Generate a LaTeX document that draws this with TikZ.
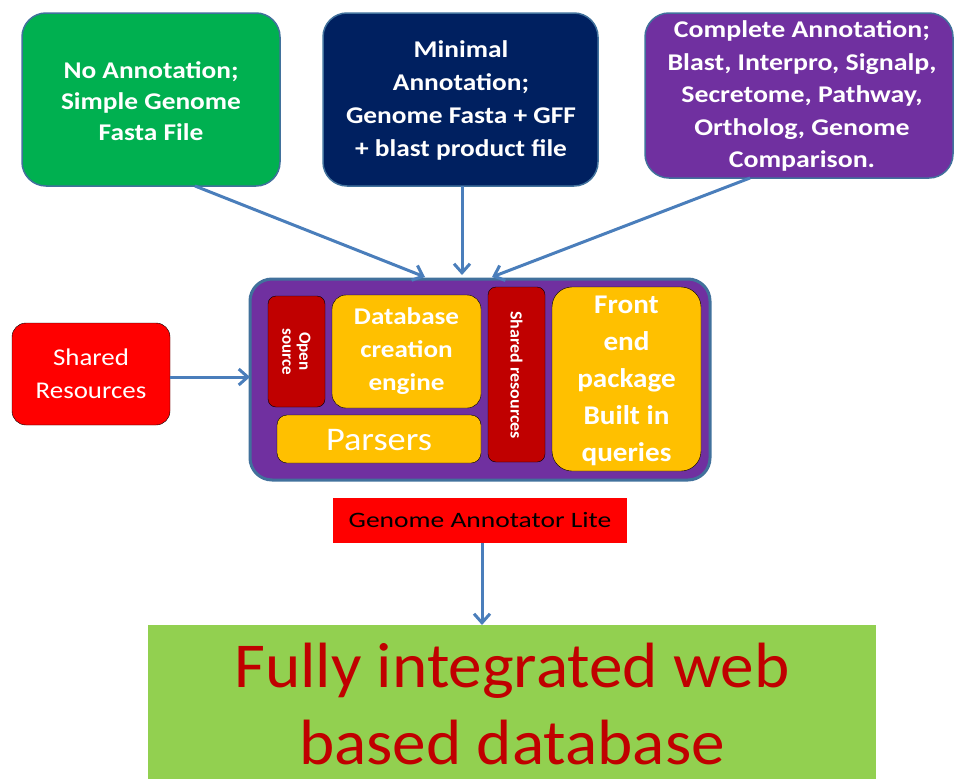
\documentclass[tikz,border=0pt]{standalone}
\usepackage{fontspec}
\setmainfont{Carlito}
\usetikzlibrary{arrows.meta}
\newcommand\widenby[1]{\addfontfeature{FakeStretch=#1}}
\definecolor{bgreen}{HTML}{00B050}
\definecolor{navy}{HTML}{002060}
\definecolor{purp}{HTML}{7030A0}
\definecolor{edgeblue}{HTML}{41719C}
\definecolor{arrblue}{HTML}{4A7EBB}
\definecolor{dred}{HTML}{C00000}
\definecolor{gold}{HTML}{FFC000}
\definecolor{lgreen}{HTML}{92D050}
\tikzset{
  topbox/.style={draw=edgeblue, line width=1.5pt, rounded corners=24pt},
  toptext/.style={text=white, align=center},
  inner/.style={rounded corners=14pt, fill=gold},
  redbar/.style={rounded corners=8pt, fill=dred},
  conn/.style={draw=arrblue, line width=3pt, -{Straight Barb[length=9pt,width=16pt,line width=3pt]}},
}
\begin{document}
\begin{tikzpicture}[x=1pt,y=-1pt]
\useasboundingbox (0,0) rectangle (955,779);
% top boxes
\draw[topbox, fill=bgreen] (22,13) rectangle (280,186);
\node[toptext, font=\bfseries\fontsize{24}{31}\selectfont\widenby{1.14}] (green) at (151,101) {No Annotation;\\Simple Genome\\Fasta File};
\draw[topbox, fill=navy] (323,13) rectangle (598,186);
\node[toptext, font=\bfseries\fontsize{24}{33}\selectfont\widenby{1.14}] (navy) at (461,100) {Minimal\\Annotation;\\Genome Fasta + GFF\\+ blast product file};
\draw[topbox, fill=purp] (645,13) rectangle (953,178);
\node[toptext, font=\bfseries\fontsize{24}{32.5}\selectfont\widenby{1.16}] (purple) at (802,96) {Complete Annotation;\\Blast, Interpro, Signalp,\\Secretome, Pathway,\\Ortholog, Genome\\Comparison.};
\coordinate (g1) at (195,186);
\coordinate (n1) at (462,186);
\coordinate (p1) at (750,178);
% container
\draw[draw=edgeblue, line width=3pt, fill=purp, rounded corners=22pt] (250,279) rectangle (710,480);
\coordinate (c1) at (425,277);
\coordinate (c2) at (462,275);
\coordinate (c3) at (492,277);
\coordinate (cl) at (250,377);
\draw[redbar] (268,296) rectangle (325,407);
\node[rotate=-90, toptext, font=\bfseries\fontsize{17}{17}\selectfont] (open) at (296.5,351.5) {Open\\source};
\draw[inner] (332,295) rectangle (481,408);
\node[toptext, font=\bfseries\fontsize{24}{33}\selectfont\widenby{1.13}] (dce) at (406.5,351.5) {Database\\creation\\engine};
\draw[inner, rounded corners=10pt] (277,415) rectangle (481,463);
\node[toptext, font=\fontsize{33}{34}\selectfont\widenby{1.1}] (parsers) at (379,440) {Parsers};
\draw[redbar] (488,287) rectangle (545,462);
\node[rotate=-90, toptext, font=\bfseries\fontsize{17}{18}\selectfont\widenby{1.06}] (shr) at (516.5,375) {Shared resources};
\draw[inner, rounded corners=20pt] (552,287) rectangle (701,471);
\node[toptext, font=\bfseries\fontsize{27}{37}\selectfont\widenby{1.08}] (fe) at (626.5,381) {Front\\end\\package\\Built in\\queries};
% shared resources left
\draw[fill=red, rounded corners=14pt] (12,323) rectangle (170,425);
\node[toptext, font=\fontsize{24}{33}\selectfont\widenby{1.12}] (sres) at (91,374) {Shared\\Resources};
\coordinate (sr1) at (170,377);
% genome annotator lite
\node[fill=red, minimum width=294pt, minimum height=45pt, inner sep=0pt, font=\fontsize{22}{24}\selectfont\widenby{1.25}] (gal) at (480,520.5) {Genome Annotator Lite};
% bottom
\fill[lgreen] (148,625) rectangle (876,779);
\node[text=dred, font=\fontsize{64}{77}\selectfont\widenby{1.05}, align=center] (web) at (512,704) {Fully integrated web\\based database};
\coordinate (w1) at (482,625);
% connectors
\draw[conn] (g1) -- (c1);
\draw[conn] (n1) -- (c2);
\draw[conn] (p1) -- (c3);
\draw[conn] (sr1) -- (cl);
\draw[conn] (gal.south -| w1) -- (w1);
\end{tikzpicture}
\end{document}
